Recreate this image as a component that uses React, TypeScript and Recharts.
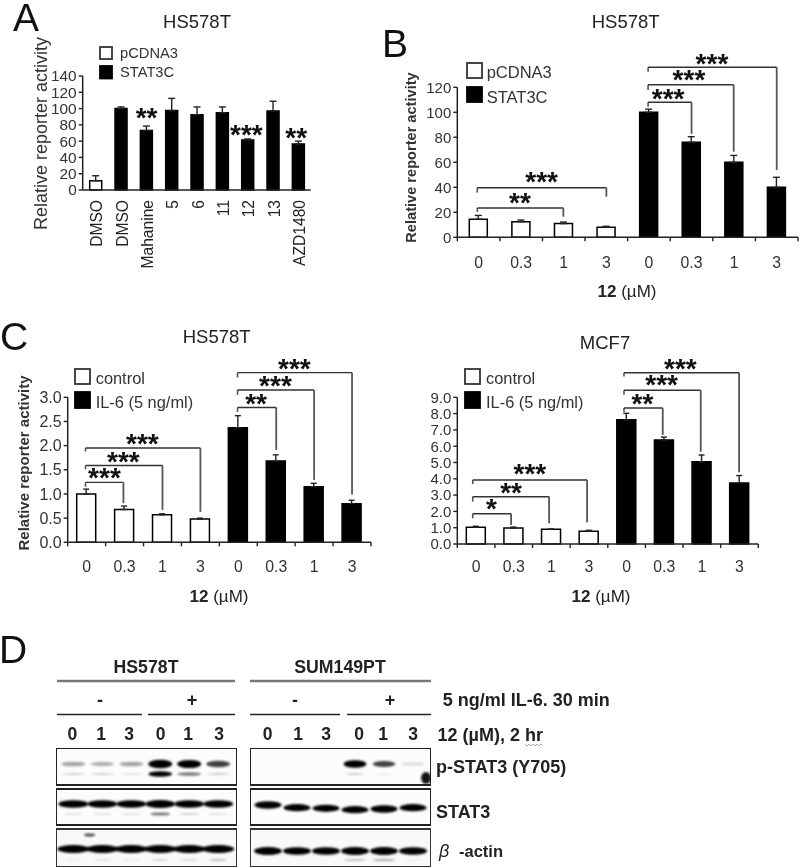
import {
  Bar,
  BarChart,
  Cell,
  ErrorBar,
  ReferenceArea,
  ReferenceDot,
  ReferenceLine,
  Scatter,
  ScatterChart,
  XAxis,
  YAxis,
} from "recharts";

const FONT = '"Liberation Sans", Arial, sans-serif';

// panel A
const aLabels = ["DMSO", "DMSO", "Mahanine", "5", "6", "11", "12", "13", "AZD1480"];
const aValues = [11.5, 100, 73, 97.5, 92.5, 95, 61.5, 97, 56.5];
const aErrors = [6, 2, 5.5, 15, 9.5, 7, 1.2, 12, 3.5];
const aTicks = [0, 20, 40, 60, 80, 100, 120, 140];
const aStars = [
  { x: 2.52, y: 92, text: "**" },
  { x: 6.46, y: 71, text: "***" },
  { x: 8.43, y: 67.5, text: "**" },
];

// panel B
const doseLabels = ["0", "0.3", "1", "3", "0", "0.3", "1", "3"];
const bValues = [14.5, 12.5, 11, 8, 100, 76, 60, 40];
const bErrors = [3, 1.3, 1.2, 0.8, 2.5, 4.5, 5.5, 8];
const bTicks = [0, 20, 40, 60, 80, 100, 120];
const bBrackets = [
  { x1: 0.47, x2: 2.49, top: 23.5, y1: 20.3, y2: 16.5 },
  { x1: 0.47, x2: 3.5, top: 39.7, y1: 35.7, y2: 32.5 },
  { x1: 4.48, x2: 5.5, top: 108, y1: 104.5, y2: 82.7 },
  { x1: 4.48, x2: 6.49, top: 122, y1: 117.9, y2: 68.5 },
  { x1: 4.48, x2: 7.5, top: 136, y1: 132.5, y2: 53.9 },
];
const bStars = [
  { x: 1.47, y: 29.9, text: "**" },
  { x: 1.98, y: 46.4, text: "***" },
  { x: 4.95, y: 113, text: "***" },
  { x: 5.44, y: 128, text: "***" },
  { x: 5.98, y: 141, text: "***" },
];

// panel C, HS578T
const cValues = [1, 0.68, 0.57, 0.48, 2.37, 1.68, 1.15, 0.8];
const cErrors = [0.1, 0.07, 0.02, 0.02, 0.25, 0.13, 0.07, 0.07];
const cTicks = [0, 0.5, 1, 1.5, 2, 2.5, 3];
const cBrackets = [
  { x1: 0.47, x2: 1.47, top: 1.24, y1: 1.15, y2: 0.81 },
  { x1: 0.47, x2: 2.5, top: 1.59, y1: 1.51, y2: 0.67 },
  { x1: 0.47, x2: 3.5, top: 1.95, y1: 1.88, y2: 0.63 },
  { x1: 4.48, x2: 5.5, top: 2.79, y1: 2.7, y2: 1.91 },
  { x1: 4.48, x2: 6.5, top: 3.15, y1: 3.05, y2: 1.29 },
  { x1: 4.48, x2: 7.5, top: 3.51, y1: 3.41, y2: 0.99 },
];
const cStars = [
  { x: 0.97, y: 1.38, text: "***" },
  { x: 1.47, y: 1.72, text: "***" },
  { x: 1.97, y: 2.1, text: "***" },
  { x: 4.97, y: 2.91, text: "**" },
  { x: 5.48, y: 3.28, text: "***" },
  { x: 5.98, y: 3.65, text: "***" },
];

// panel C, MCF7
const mValues = [1.03, 0.98, 0.9, 0.78, 7.62, 6.38, 5.05, 3.75];
const mErrors = [0.06, 0.06, 0.02, 0.06, 0.4, 0.18, 0.41, 0.45];
const mTicks = [0, 1, 2, 3, 4, 5, 6, 7, 8, 9];
const mBrackets = [
  { x1: 0.41, x2: 1.43, top: 1.86, y1: 1.57, y2: 1.17 },
  { x1: 0.41, x2: 2.44, top: 2.9, y1: 2.6, y2: 1.27 },
  { x1: 0.41, x2: 3.45, top: 3.93, y1: 3.68, y2: 1.33 },
  { x1: 4.43, x2: 5.46, top: 8.34, y1: 8.1, y2: 6.69 },
  { x1: 4.43, x2: 6.47, top: 9.43, y1: 9.16, y2: 5.66 },
  { x1: 4.43, x2: 7.49, top: 10.51, y1: 10.27, y2: 4.4 },
];
const mStars = [
  { x: 0.91, y: 2.29, text: "*" },
  { x: 1.43, y: 3.29, text: "**" },
  { x: 1.93, y: 4.44, text: "***" },
  { x: 4.92, y: 8.77, text: "**" },
  { x: 5.43, y: 9.92, text: "***" },
  { x: 5.93, y: 10.92, text: "***" },
];

// panel D, band darkness per lane (0-1)
const hsPhosUpper = [0.3, 0.26, 0.3, 1, 0.95, 0.65];
const hsPhosLower = [0.13, 0.13, 0.08, 1, 0.45, 0.15];
const hsStat = [0.95, 0.9, 0.9, 1, 0.9, 0.9];
const hsStatLower = [0.1, 0.1, 0.1, 0.45, 0.15, 0.1];
const hsActin = [1, 1, 1, 1, 1, 1];
const hsActinLower = [0.1, 0.12, 0.08, 0.15, 0.15, 0.3];
const sumPhosUpper = [0, 0, 0, 1, 0.65, 0.12];
const sumPhosLower = [0, 0, 0, 0.15, 0.08, 0];
const sumStat = [1, 0.95, 0.95, 0.95, 1, 0.95];
const sumStatShift = [0, 2.7, 3.3, 4.7, 4, 2.7];
const sumActin = [1, 0.95, 0.95, 1, 1, 0.95];
const sumActinLower = [0, 0, 0, 0.2, 0.3, 0.05];

type Star = { x: number; y: number; text: string };
type Bracket = { x1: number; x2: number; top: number; y1: number; y2: number };

function makeRows(values: number[], errors: number[]) {
  return values.map((value, i) => ({ pos: i + 0.5, value, err: [0, errors[i]] }));
}

function renderStars(stars: Star[]) {
  return stars.map((s, i) => (
    <ReferenceDot
      key={`star-${i}`}
      x={s.x}
      y={s.y}
      ifOverflow="visible"
      shape={(p: any) => (
        <text x={p.cx} y={p.cy + 11.7} textAnchor="middle" fontFamily={FONT} fontWeight={700} fontSize={28} fill="#111">
          {s.text}
        </text>
      )}
    />
  ));
}

function renderBrackets(brackets: Bracket[]) {
  return brackets.flatMap((b, i) => {
    const seg = (key: string, a: any, c: any, color: string, w: number) => (
      <ReferenceLine key={`br-${i}-${key}`} segment={[a, c]} stroke={color} strokeWidth={w} ifOverflow="visible" />
    );
    return [
      seg("l", { x: b.x1, y: b.y1 }, { x: b.x1, y: b.top }, "#555", 1.6),
      seg("t", { x: b.x1, y: b.top }, { x: b.x2, y: b.top }, "#333", 1.4),
      seg("r", { x: b.x2, y: b.top }, { x: b.x2, y: b.y2 }, "#555", 1.8),
    ];
  });
}

function GroupTick({ x, y, payload, labels, gap, fontSize }: any) {
  const v = payload.value;
  if (Number.isInteger(v)) {
    return <line x1={x} x2={x} y1={y} y2={y + 4} stroke="#222" strokeWidth={1.4} />;
  }
  return (
    <text x={x} y={y + gap} dy="0.35em" textAnchor="middle" fontFamily={FONT} fontSize={fontSize} fill="#333">
      {labels[Math.floor(v)]}
    </text>
  );
}

function RotatedTick({ x, y, payload, labels }: any) {
  const lx = x + 1.5;
  const ly = y + 10;
  return (
    <text
      transform={`rotate(-90 ${lx} ${ly})`}
      x={lx}
      y={ly}
      dy="0.35em"
      textAnchor="end"
      fontFamily={FONT}
      fontSize={15.6}
      fill="#222"
    >
      {labels[Math.floor(payload.value)]}
    </text>
  );
}

const Y_W = 40;
const X_H = 30;

function BarPanel(props: any) {
  const { box, plot, values, errors, yMax, yTicks, fmt, whiteCount, barSize, tickFont, stars, brackets, labels, gap, rotated, capW } = props;
  const n = values.length;
  const rows = makeRows(values, errors);
  const xTicks = rotated
    ? rows.map((r) => r.pos)
    : Array.from({ length: n * 2 + 1 }, (_, i) => i / 2);
  return (
    <div style={{ position: "absolute", left: box.left, top: box.top }}>
      <BarChart
        width={box.width}
        height={box.height}
        data={rows}
        style={{ overflow: "visible" }}
        margin={{
          left: plot.left - box.left - Y_W,
          top: plot.top - box.top,
          right: box.left + box.width - plot.right,
          bottom: box.top + box.height - plot.bottom - X_H,
        }}
      >
        <XAxis
          type="number"
          dataKey="pos"
          domain={[0, n]}
          ticks={xTicks}
          interval={0}
          height={X_H}
          tickSize={0}
          tickMargin={0}
          tickLine={false}
          axisLine={{ stroke: "#222", strokeWidth: 1.5 }}
          tick={(p: any) =>
            rotated ? <RotatedTick {...p} labels={labels} /> : <GroupTick {...p} labels={labels} gap={gap} fontSize={15.8} />
          }
        />
        <YAxis
          type="number"
          width={Y_W}
          domain={[0, yMax]}
          ticks={yTicks}
          interval={0}
          tickSize={4}
          tickMargin={2}
          tickFormatter={fmt}
          axisLine={{ stroke: "#222", strokeWidth: 1.5 }}
          tickLine={{ stroke: "#222", strokeWidth: 1.4 }}
          tick={{ fontFamily: FONT, fontSize: tickFont, fill: "#333" }}
        />
        <Bar dataKey="value" barSize={barSize} isAnimationActive={false} stroke="#000" strokeWidth={1.5}>
          {rows.map((_, i) => (
            <Cell key={i} fill={i < whiteCount ? "#fff" : "#000"} />
          ))}
          <ErrorBar dataKey="err" direction="y" width={capW} stroke="#222" strokeWidth={1.4} isAnimationActive={false} />
        </Bar>
        {brackets ? renderBrackets(brackets) : null}
        {renderStars(stars)}
      </BarChart>
    </div>
  );
}

function bandShape(width: number, thick: number) {
  return (p: any) => {
    const d = p.payload.dark;
    if (d <= 0) return <g />;
    return (
      <ellipse
        cx={p.cx}
        cy={p.cy}
        rx={width / 2}
        ry={(thick * (0.35 + 0.65 * d)) / 2}
        fill="#000"
        opacity={Math.min(1, d * 1.15)}
        style={{ filter: "blur(0.9px)" }}
      />
    );
  };
}

function track(values: number[], at: number, shifts?: number[]) {
  return values.map((dark, lane) => ({ lane, at: at + (shifts ? shifts[lane] : 0), dark }));
}

function Gel({ left, domain, series }: any) {
  const W = 181;
  const H = 119;
  return (
    <div style={{ position: "absolute", left, top: 748 }}>
      <ScatterChart width={W} height={H} margin={{ left: 0, right: 0, top: 0, bottom: 0 }} style={{ overflow: "visible" }}>
        <XAxis hide type="number" dataKey="lane" domain={domain} height={0} />
        <YAxis hide type="number" dataKey="at" domain={[0, H]} reversed width={0} />
        <ReferenceArea x1={domain[0]} x2={domain[1]} y1={0} y2={37} fill="#fafafa" stroke="#222" strokeWidth={2} />
        <ReferenceArea x1={domain[0]} x2={domain[1]} y1={41} y2={77} fill="#fafafa" stroke="#222" strokeWidth={2} />
        <ReferenceArea x1={domain[0]} x2={domain[1]} y1={81} y2={119} fill="#f4f4f4" stroke="#333" strokeWidth={2} />
        {series.map((s: any, i: number) => (
          <Scatter key={i} data={s.data} shape={bandShape(s.w, s.h)} isAnimationActive={false} />
        ))}
      </ScatterChart>
    </div>
  );
}

const hsSeries = [
  { data: track(hsPhosUpper, 16), w: 24, h: 8.5 },
  { data: track(hsPhosLower, 26), w: 24, h: 5.5 },
  { data: track(hsStat, 56), w: 30, h: 8 },
  { data: track(hsStatLower, 66), w: 20, h: 5 },
  { data: track(hsActin, 101), w: 32, h: 8 },
  { data: track(hsActinLower, 112), w: 18, h: 3 },
  { data: [{ lane: 0.56, at: 87, dark: 0.6 }], w: 11, h: 4 },
];
const sumSeries = [
  { data: track(sumPhosUpper, 16), w: 23, h: 7.5 },
  { data: track(sumPhosLower, 26), w: 18, h: 4 },
  { data: [{ lane: 5.45, at: 30, dark: 0.8 }], w: 10, h: 14 },
  { data: track(sumStat, 57, sumStatShift), w: 27, h: 7.5 },
  { data: track(sumActin, 103), w: 28, h: 8 },
  { data: track(sumActinLower, 112), w: 22, h: 4 },
];

function Swatch({ x, y, w, h, fill }: any) {
  return <rect x={x} y={y} width={w} height={h} fill={fill} stroke={fill === "#000" ? "#000" : "#333"} strokeWidth={1.8} />;
}

function T({ children, x, y, size, weight, anchor, fill, rot, italic }: any) {
  return (
    <text
      x={x}
      y={y}
      dy="0.35em"
      fontFamily={FONT}
      fontSize={size}
      fontWeight={weight ?? 400}
      fontStyle={italic ? "italic" : undefined}
      textAnchor={anchor ?? "start"}
      fill={fill ?? "#222"}
      transform={rot ? `rotate(${rot} ${x} ${y})` : undefined}
    >
      {children}
    </text>
  );
}

function Letter({ x, y, children }: any) {
  return (
    <text x={x} y={y} fontFamily={FONT} fontSize={39} fill="#111">
      {children}
    </text>
  );
}

function DoseTitle({ x, y }: any) {
  return (
    <T x={x} y={y} size={17} anchor="middle" fill="#222">
      <tspan fontWeight={700}>12</tspan> (µM)
    </T>
  );
}

function Overlay() {
  const laneLabels = ["0", "1", "3", "0", "1", "3"];
  const hsLaneX = [72.3, 101, 129, 160.7, 188, 219];
  const sumLaneX = [267.7, 298, 326, 359, 383, 413];
  return (
    <svg width={800} height={868} style={{ position: "absolute", left: 0, top: 0, pointerEvents: "none" }}>
      <Letter x={13} y={31}>A</Letter>
      <Letter x={382} y={57}>B</Letter>
      <Letter x={0} y={350}>C</Letter>
      <Letter x={-1} y={663}>D</Letter>

      <T x={197} y={22} size={18.5} anchor="middle">HS578T</T>
      <T x={625.7} y={22} size={18.5} anchor="middle">HS578T</T>
      <T x={216.7} y={337} size={18.5} anchor="middle">HS578T</T>
      <T x={605} y={343} size={18.5} anchor="middle">MCF7</T>

      <T x={41} y={133.5} size={18} anchor="middle" rot={-90} fill="#333">Relative reporter activity</T>
      <T x={411} y={157.5} size={14.6} weight={700} anchor="middle" rot={-90} fill="#333">Relative reporter activity</T>
      <T x={24} y={463} size={15} weight={700} anchor="middle" rot={-90} fill="#333">Relative reporter activity</T>

      <Swatch x={100} y={47} w={12} h={12} fill="#fff" />
      <Swatch x={100} y={66} w={12} h={12.5} fill="#000" />
      <T x={120} y={53} size={14.7} fill="#333">pCDNA3</T>
      <T x={120} y={72} size={14.7} fill="#333">STAT3C</T>

      <Swatch x={467} y={63} w={15} h={15} fill="#fff" />
      <Swatch x={467} y={87} w={15} h={15} fill="#000" />
      <T x={486.7} y={72} size={16.5} fill="#333">pCDNA3</T>
      <T x={486.7} y={97} size={16.5} fill="#333">STAT3C</T>

      <Swatch x={75} y={369} w={15} h={15} fill="#fff" />
      <Swatch x={75} y={392} w={15} h={16} fill="#000" />
      <T x={95.7} y={378} size={16.4} fill="#333">control</T>
      <T x={95.7} y={402} size={16.4} fill="#333">IL-6 (5 ng/ml)</T>

      <Swatch x={465} y={369} w={15} h={15} fill="#fff" />
      <Swatch x={465} y={392} w={15} h={16} fill="#000" />
      <T x={486} y={378} size={16.4} fill="#333">control</T>
      <T x={486} y={402} size={16.4} fill="#333">IL-6 (5 ng/ml)</T>

      <DoseTitle x={627} y={291} />
      <DoseTitle x={219} y={596} />
      <DoseTitle x={601} y={596} />

      <T x={146} y={667} size={17.7} weight={700} anchor="middle">HS578T</T>
      <T x={340} y={667} size={17.7} weight={700} anchor="middle">SUM149PT</T>
      <line x1={57} x2={235} y1={681} y2={681} stroke="#777" strokeWidth={2.4} />
      <line x1={250} x2={431} y1={681} y2={681} stroke="#777" strokeWidth={2.4} />
      <T x={100} y={700} size={18} weight={700} anchor="middle">-</T>
      <T x={192} y={700} size={18} weight={700} anchor="middle">+</T>
      <T x={295} y={700} size={18} weight={700} anchor="middle">-</T>
      <T x={390} y={700} size={18} weight={700} anchor="middle">+</T>
      <line x1={57} x2={142} y1={714.5} y2={714.5} stroke="#222" strokeWidth={1.4} />
      <line x1={148} x2={235} y1={714.5} y2={714.5} stroke="#222" strokeWidth={1.4} />
      <line x1={250} x2={340} y1={714.5} y2={714.5} stroke="#222" strokeWidth={1.4} />
      <line x1={347} x2={431} y1={714.5} y2={714.5} stroke="#222" strokeWidth={1.4} />
      {laneLabels.map((t, i) => (
        <T key={`h${i}`} x={hsLaneX[i]} y={734} size={17.5} weight={700} anchor="middle">{t}</T>
      ))}
      {laneLabels.map((t, i) => (
        <T key={`s${i}`} x={sumLaneX[i]} y={734} size={17.5} weight={700} anchor="middle">{t}</T>
      ))}

      <T x={442.7} y={700} size={18} weight={700}>5 ng/ml IL-6. 30 min</T>
      <T x={437.5} y={735} size={18} weight={700}>12 (µM), 2 hr</T>
      <path d="M525 744l2 2 2-2 2 2 2-2 2 2 2-2 2 2 2-2 2 2" fill="none" stroke="#999" strokeWidth={0.8} />
      <T x={436} y={767} size={18} weight={700}>p-STAT3 (Y705)</T>
      <T x={436} y={812} size={18} weight={700}>STAT3</T>
      <T x={439} y={851} size={18} italic>β</T>
      <T x={459} y={851} size={16.5} weight={700}>-actin</T>
    </svg>
  );
}

export default function App() {
  return (
    <div
      style={{
        position: "absolute",
        left: 0,
        top: 0,
        width: 800,
        height: 868,
        background: "#fff",
        overflow: "hidden",
        filter: "blur(0.45px)",
      }}
    >
      <BarPanel
        box={{ left: 0, top: 0, width: 330, height: 300 }}
        plot={{ left: 82.7, top: 76, right: 310.7, bottom: 190 }}
        values={aValues}
        errors={aErrors}
        labels={aLabels}
        yMax={140}
        yTicks={aTicks}
        whiteCount={1}
        barSize={12}
        tickFont={15.4}
        stars={aStars}
        rotated
        capW={3.5}
      />
      <BarPanel
        box={{ left: 380, top: 0, width: 420, height: 300 }}
        plot={{ left: 457.3, top: 87.3, right: 798, bottom: 237.3 }}
        values={bValues}
        errors={bErrors}
        labels={doseLabels}
        yMax={120}
        yTicks={bTicks}
        whiteCount={4}
        barSize={18}
        tickFont={15}
        stars={bStars}
        brackets={bBrackets}
        gap={24.7}
        capW={3.5}
      />
      <BarPanel
        box={{ left: 0, top: 310, width: 390, height: 300 }}
        plot={{ left: 67.7, top: 397.3, right: 371, bottom: 542.3 }}
        values={cValues}
        errors={cErrors}
        labels={doseLabels}
        yMax={3}
        yTicks={cTicks}
        fmt={(v: number) => v.toFixed(1)}
        whiteCount={4}
        barSize={19}
        tickFont={16}
        stars={cStars}
        brackets={cBrackets}
        gap={24.4}
        capW={3}
      />
      <BarPanel
        box={{ left: 400, top: 310, width: 400, height: 300 }}
        plot={{ left: 457.3, top: 397.3, right: 758.3, bottom: 544 }}
        values={mValues}
        errors={mErrors}
        labels={doseLabels}
        yMax={9}
        yTicks={mTicks}
        fmt={(v: number) => v.toFixed(1)}
        whiteCount={4}
        barSize={19}
        tickFont={15}
        stars={mStars}
        brackets={mBrackets}
        gap={22.7}
        capW={3}
      />
      <Gel left={56} domain={[-0.6, 5.65]} series={hsSeries} />
      <Gel left={250} domain={[-0.62, 5.62]} series={sumSeries} />
      <Overlay />
    </div>
  );
}
